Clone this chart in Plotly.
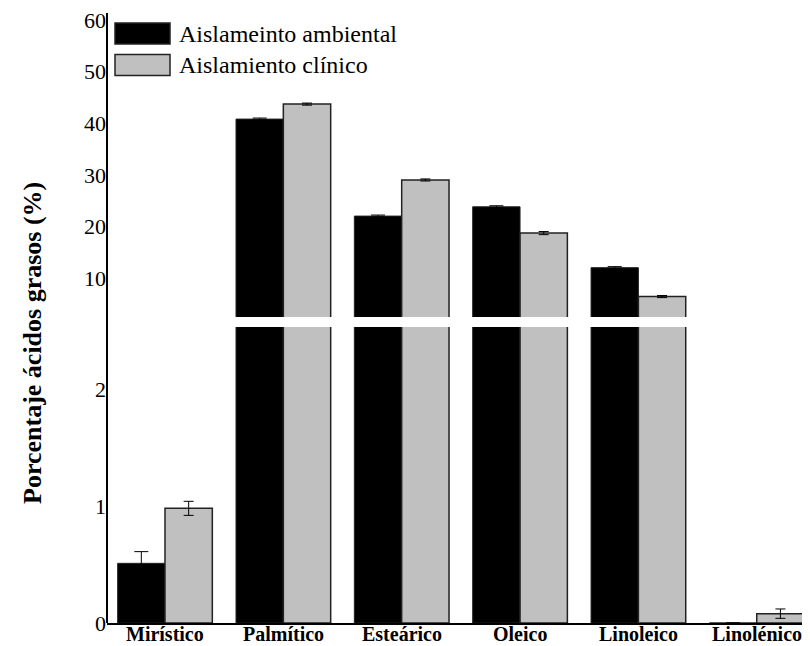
import plotly.graph_objects as go

categories = ["Mirístico", "Palmítico", "Esteárico", "Oleico", "Linoleico", "Linolénico"]
ambiental = [0.51, 40.8, 22.0, 23.8, 12.0, 0.0]
ambiental_err = [0.1, 0.2, 0.2, 0.2, 0.2, 0.0]
clinico = [0.98, 43.7, 29.0, 18.7, 6.4, 0.08]
clinico_err = [0.06, 0.2, 0.2, 0.3, 0.2, 0.04]
series_names = ["Aislameinto ambiental", "Aislamiento clínico"]
lower_ticks = [0, 1, 2]
upper_ticks = [10, 20, 30, 40, 50, 60]

FONT = "Liberation Serif"
x_idx = list(range(len(categories)))

# page body has an 8px margin; compensate so the plot lands at the intended pixels
PW = 703.0   # plot width (px)
PH = 610.0   # plot height (px)
X0 = 107.0   # plot left on screen
YB = 623.0   # plot bottom on screen


def px(xs):
    return (xs - X0) / PW


def py(ys):
    return (YB - ys) / PH


fig = go.Figure()
for yax in ["y", "y2"]:
    fig.add_trace(go.Bar(
        x=x_idx, y=ambiental, width=0.4, offset=-0.4, xaxis="x", yaxis=yax,
        marker=dict(color="black", line=dict(color="#222", width=1)),
        error_y=dict(type="data", array=ambiental_err, color="black", thickness=1, width=7),
        showlegend=False, name=series_names[0]))
    fig.add_trace(go.Bar(
        x=x_idx, y=clinico, width=0.4, offset=0.0, xaxis="x", yaxis=yax,
        marker=dict(color="#c0c0c0", line=dict(color="#222", width=1.5)),
        error_y=dict(type="data", array=clinico_err, color="black", thickness=1, width=5),
        showlegend=False, name=series_names[1]))

# legend drawn manually
leg = [("black", series_names[0], 33.5), ("#c0c0c0", series_names[1], 65.0)]
shapes = []
annotations = []
for col, name, yc in leg:
    shapes.append(dict(type="rect", xref="paper", yref="paper",
                       x0=px(115), x1=px(170),
                       y0=py(yc + 10.5), y1=py(yc - 10.5),
                       fillcolor=col, line=dict(color="#222", width=1.5)))
    annotations.append(dict(xref="paper", yref="paper", x=px(177), y=py(yc),
                            text=name, showarrow=False, xanchor="left", yanchor="middle",
                            font=dict(family=FONT, size=24, color="black")))

# category labels below the axis
for i, c in zip(x_idx, categories):
    annotations.append(dict(xref="x", yref="paper", x=i, y=0, yanchor="middle",
                            yshift=-11, text=f"<b>{c}</b>", showarrow=False,
                            font=dict(family=FONT, size=20, color="black")))

# continuous left axis line
shapes.append(dict(type="line", xref="paper", yref="paper", x0=0, x1=0, y0=0, y1=1,
                   line=dict(color="black", width=2)))

annotations.append(dict(xref="paper", yref="paper", x=px(33), y=py(343),
                        text="<b>Porcentaje ácidos grasos (%)</b>", textangle=-90,
                        showarrow=False, xanchor="center", yanchor="middle",
                        font=dict(family=FONT, size=26, color="black")))

fig.update_layout(
    width=802, height=638,
    margin=dict(l=99, r=0, t=5, b=23),
    paper_bgcolor="white", plot_bgcolor="white",
    barmode="overlay",
    font=dict(family=FONT, color="black"),
    xaxis=dict(range=[-0.49, 5.45], tickmode="array", tickvals=x_idx,
               showticklabels=False,
               showline=True, linecolor="black", linewidth=1.5, showgrid=False, zeroline=False,
               ticks="", anchor="y", automargin=False),
    yaxis=dict(domain=[0, 296 / PH], range=[0, 2.53], tickvals=lower_ticks,
               showgrid=False, zeroline=False, showline=False, ticks="",
               tickfont=dict(size=22, family=FONT), ticklabelstandoff=0, automargin=False,
               ticklabeloverflow="allow"),
    yaxis2=dict(domain=[306 / PH, 1], range=[2.44, 61.36], tickvals=upper_ticks,
                showgrid=False, zeroline=False, showline=False, ticks="",
                tickfont=dict(size=22, family=FONT), anchor="x", ticklabelstandoff=0,
                automargin=False, ticklabeloverflow="allow"),
    shapes=shapes, annotations=annotations,
)

fig.write_html("out.html")
